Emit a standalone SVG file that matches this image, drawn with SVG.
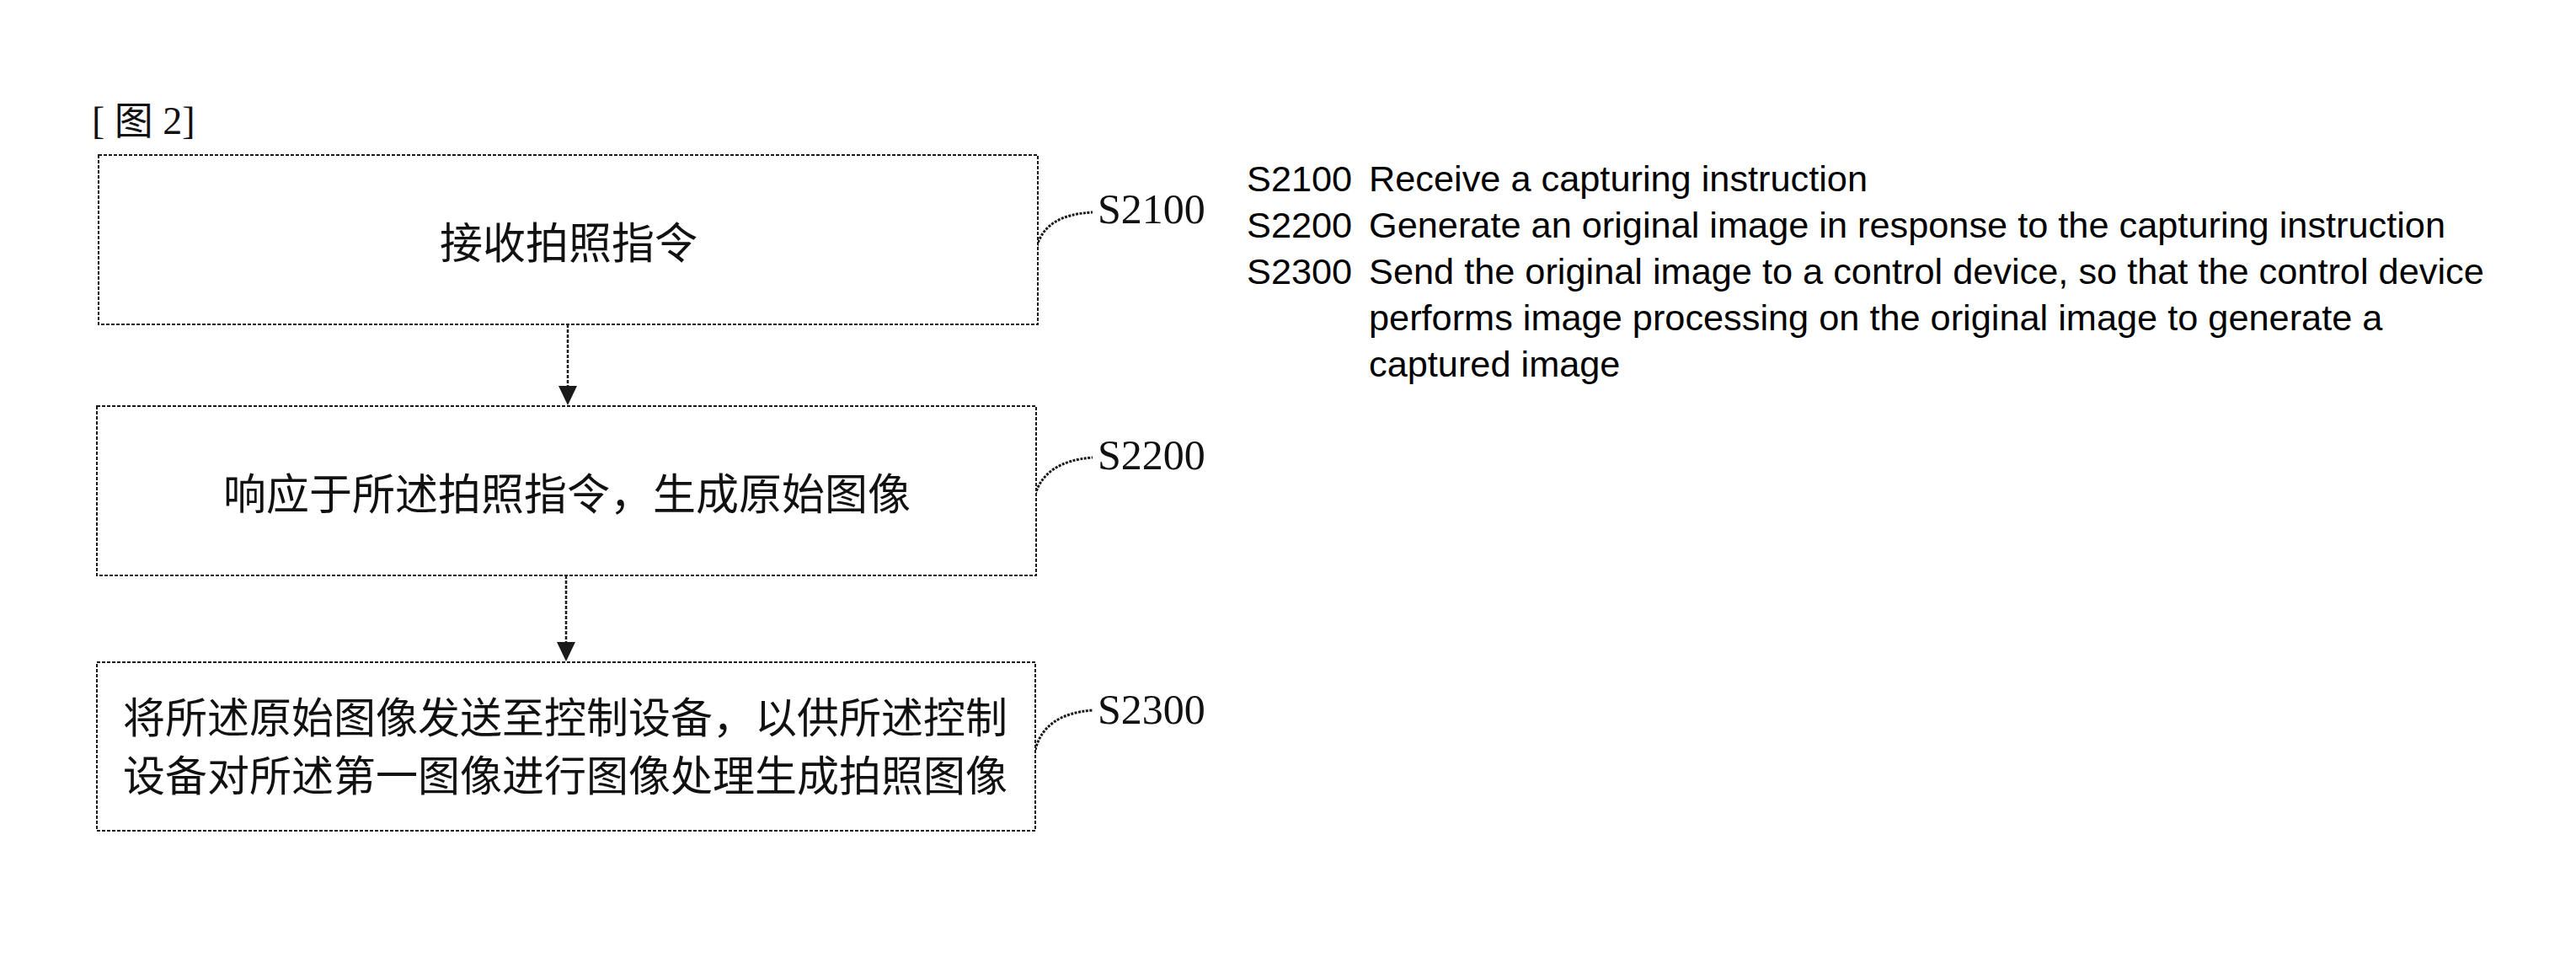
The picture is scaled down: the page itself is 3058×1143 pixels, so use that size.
<svg xmlns="http://www.w3.org/2000/svg" width="3058" height="1143" viewBox="0 0 3058 1143">
  <style>
    .box { fill: #ffffff; stroke: #1a1a1a; stroke-width: 2; stroke-dasharray: 4 2; }
    .cn { font-family: "Noto Sans CJK SC", "Noto Sans CJK JP", sans-serif; font-size: 51px; fill: #111; text-anchor: middle; dominant-baseline: central; }
    .cn2 { font-family: "Noto Sans CJK SC", "Noto Sans CJK JP", sans-serif; font-size: 50px; fill: #111; text-anchor: middle; dominant-baseline: central; }
    .lbl { font-family: "Liberation Serif", "Times New Roman", serif; font-size: 50px; fill: #111; }
    .en { font-family: "Liberation Sans", Arial, sans-serif; font-size: 43.3px; fill: #000; }
    .conn { fill: none; stroke: #1a1a1a; stroke-width: 2.5; stroke-dasharray: 4 2; }
    .lead { fill: none; stroke: #1a1a1a; stroke-width: 3; stroke-dasharray: 3 1.5; }
    .head { fill: #1a1a1a; }
  </style>
  <rect width="3058" height="1143" fill="#ffffff"/>

  <text x="109" y="159" font-family="Liberation Serif, Noto Sans CJK SC, serif" font-size="46" fill="#111">[ 图 2]</text>

  <g id="connectors">
    <path class="conn" d="M674,385 L674,458" />
    <polygon class="head" points="663,458 685,458 674,481"/>
    <path class="conn" d="M672,683 L672,762" />
    <polygon class="head" points="661,762 683,762 672,785"/>
    <path class="lead" d="M1231,292 C1238,268 1258,254 1297,252" />
    <path class="lead" d="M1229,587 C1236,562 1258,546 1297,543" />
    <path class="lead" d="M1229,890 C1236,862 1258,846 1297,843" />
  </g>

  <g id="node-s2100">
    <rect class="box" x="117" y="184" width="1115" height="201"/>
    <text class="cn" x="675" y="285">接收拍照指令</text>
    <text class="lbl" x="1303" y="265">S2100</text>
  </g>

  <g id="node-s2200">
    <rect class="box" x="115" y="482" width="1115" height="201"/>
    <text class="cn" x="673" y="583">响应于所述拍照指令，生成原始图像</text>
    <text class="lbl" x="1303" y="557">S2200</text>
  </g>

  <g id="node-s2300">
    <rect class="box" x="115" y="786" width="1114" height="200"/>
    <text class="cn2" x="671" y="848">将所述原始图像发送至控制设备，以供所述控制</text>
    <text class="cn2" x="671" y="917">设备对所述第一图像进行图像处理生成拍照图像</text>
    <text class="lbl" x="1303" y="859">S2300</text>
  </g>

  <g id="legend">
    <text class="en" x="1480" y="227">S2100</text>
    <text class="en" x="1625" y="227">Receive a capturing instruction</text>
    <text class="en" x="1480" y="282">S2200</text>
    <text class="en" x="1625" y="282">Generate an original image in response to the capturing instruction</text>
    <text class="en" x="1480" y="337">S2300</text>
    <text class="en" x="1625" y="337">Send the original image to a control device, so that the control device</text>
    <text class="en" x="1625" y="392">performs image processing on the original image to generate a</text>
    <text class="en" x="1625" y="447">captured image</text>
  </g>
</svg>
